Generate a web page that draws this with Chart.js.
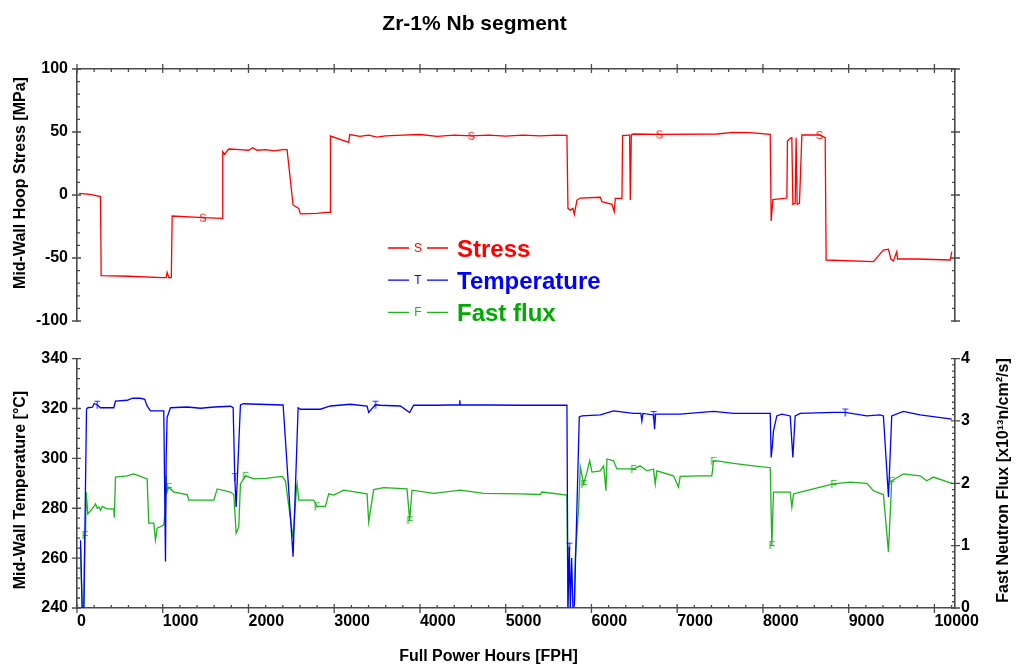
<!DOCTYPE html>
<html>
<head>
<meta charset="utf-8">
<title>Zr-1% Nb segment</title>
<script src="https://cdn.jsdelivr.net/npm/chart.js@4.4.1/dist/chart.umd.min.js"></script>
<style>
  html, body { margin: 0; padding: 0; background: #fff; }
  #wrap { position: relative; width: 1016px; height: 669px; }
  #top { position: absolute; left: 0; top: 0; }
  #bottom { position: absolute; left: 0; top: 340px; }
</style>
</head>
<body>
<div id="wrap">
  <canvas id="top" width="1016" height="340"></canvas>
  <canvas id="bottom" width="1016" height="329"></canvas>
</div>
<script>
const seriesNames = ['Stress', 'Temperature', 'Fast flux'];
const hourTicks = [0, 1000, 2000, 3000, 4000, 5000, 6000, 7000, 8000, 9000, 10000];

const stressHours = [25, 150, 274, 282, 600, 1000, 1040, 1051, 1070, 1100, 1110, 1470, 1693, 1700, 1720, 1770, 1900, 2000, 2050, 2100, 2200, 2300, 2400, 2450, 2520, 2586, 2605, 2800, 2900, 2955, 2956, 3169, 3181, 3300, 3400, 3500, 3600, 3800, 4000, 4200, 4400, 4600, 4800, 5000, 5200, 5400, 5600, 5714, 5726, 5753, 5784, 5800, 5831, 5870, 6103, 6122, 6239, 6266, 6278, 6356, 6363, 6433, 6445, 6453, 6465, 6491, 6794, 7463, 7657, 7851, 8085, 8096, 8116, 8279, 8286, 8318, 8337, 8349, 8376, 8387, 8399, 8426, 8454, 8660, 8726, 8737, 9289, 9328, 9406, 9464, 9492, 9522, 9561, 9570, 9795, 10183, 10203];
const stressMPa = [1.3, 0.5, -1.3, -64, -64.5, -65.5, -65.5, -61.4, -65.5, -65.5, -16.7, -18, -18.5, 34.4, 32.3, 36.5, 36, 35.5, 37.5, 35.5, 36, 35, 36, 36, -7.9, -10.6, -15, -14.6, -13.8, -13.8, 46.8, 41.8, 48, 46.5, 47.5, 46, 47, 47.5, 48, 46.5, 47.5, 47, 47.5, 46.8, 47.5, 47, 47.5, 47.3, -10.6, -12, -10.6, -15.3, -4, -2.4, -1.8, -5.3, -7.4, -13.2, -2.6, -2.6, 47.1, 47.5, 47.5, -4, 47.8, 48.4, 48.1, 48.4, 49.7, 49.5, 48.1, -20.6, -3.6, -2.4, 42.9, 45, 45.5, -7.4, -6.6, 45.5, -7.4, -6.6, 47.6, 47.6, 45.5, -51.6, -52.9, -49.7, -43.7, -43, -50.8, -52.4, -45, -50.8, -50.8, -51.6, -45];
const stressMarks = [1470, 4600, 6794, 8660];

const tempHours = [41, 60, 80, 111, 126, 180, 200, 235, 274, 429, 449, 585, 650, 740, 790, 818, 857, 1012, 1032, 1040, 1051, 1090, 1285, 1440, 1600, 1789, 1821, 1840, 1856, 1906, 1945, 2392, 2404, 2520, 2579, 2605, 2839, 2955, 3188, 3383, 3402, 3480, 3538, 3771, 3880, 3926, 4200, 4463, 4465, 4470, 5170, 5714, 5726, 5742, 5753, 5769, 5784, 5800, 5858, 5889, 6103, 6258, 6491, 6576, 6588, 6600, 6724, 6736, 6748, 7035, 7424, 7657, 8085, 8096, 8110, 8123, 8162, 8220, 8318, 8349, 8376, 8434, 8823, 8959, 9211, 9366, 9405, 9464, 9502, 9638, 9833, 10203];
const tempC = [267.2, 240, 240, 319.7, 320.3, 320.5, 322, 321.5, 320.3, 320.3, 323, 323.3, 324.1, 324.1, 323.7, 321, 319, 319, 258.6, 300, 316.4, 320.3, 320.6, 320.1, 320.6, 320.9, 320.3, 292.5, 280.5, 321.4, 321.9, 321.4, 321.4, 260.6, 320.3, 319.7, 319.7, 321, 321.7, 321, 318.4, 321.5, 321.3, 321, 318.4, 321.3, 321.3, 321.5, 323.3, 321.5, 321.3, 321.3, 240, 264.6, 240, 260, 240, 240, 316.6, 317, 317.4, 319, 318, 318, 315, 318, 317.4, 311.7, 317.7, 317.7, 318.8, 318, 318, 300.4, 305, 311, 317, 317.7, 317, 300.4, 317, 318, 318.4, 318.4, 317, 317.4, 317, 284.5, 317, 318.8, 317.4, 315.7];
const tempMarks = [235, 1840, 3480, 5742, 6724, 8959];

const fluxHours = [41, 60, 80, 92, 100, 107, 126, 177, 216, 235, 255, 274, 294, 352, 429, 435, 449, 585, 663, 740, 818, 837, 896, 915, 935, 1012, 1032, 1040, 1051, 1071, 1129, 1285, 1304, 1596, 1635, 1789, 1829, 1856, 1887, 1906, 1965, 2062, 2200, 2392, 2431, 2520, 2559, 2567, 2587, 2761, 2800, 2897, 2936, 2994, 3110, 3383, 3402, 3460, 3577, 3849, 3880, 3907, 4160, 4471, 4743, 5170, 5403, 5423, 5714, 5726, 5800, 5812, 5851, 5870, 5909, 5948, 5979, 6006, 6103, 6142, 6169, 6181, 6258, 6297, 6491, 6569, 6646, 6724, 6744, 6763, 6957, 7015, 7035, 7268, 7404, 7424, 7463, 7657, 7890, 8085, 8104, 8123, 8318, 8337, 8357, 8434, 8823, 9017, 9211, 9289, 9405, 9464, 9502, 9638, 9833, 9910, 9988, 10203];
const fluxE13 = [0.98, 0, 0, 1.17, 1.2, 1.86, 1.51, 1.59, 1.67, 1.6, 1.62, 1.57, 1.63, 1.59, 1.59, 1.45, 2.1, 2.12, 2.15, 2.11, 2.07, 1.36, 1.36, 1.09, 1.28, 1.33, 1.62, 2.12, 1.86, 1.94, 1.86, 1.82, 1.73, 1.73, 1.91, 1.86, 1.82, 1.2, 1.3, 1.99, 2.12, 2.07, 2.08, 2.11, 2.04, 1.12, 1.91, 1.99, 1.73, 1.73, 1.63, 1.63, 1.83, 1.81, 1.89, 1.83, 1.38, 1.9, 1.93, 1.91, 1.41, 1.89, 1.84, 1.89, 1.84, 1.83, 1.82, 1.86, 1.81, 0, 0, 0.82, 1.62, 2.26, 1.99, 2.18, 2.36, 2.18, 2.2, 2.28, 1.88, 2.39, 2.36, 2.23, 2.23, 2.28, 2.2, 2.23, 1.99, 2.2, 2.12, 1.94, 2.11, 2.12, 2.12, 2.36, 2.36, 2.32, 2.28, 2.25, 1.01, 1.86, 1.86, 1.62, 1.83, 1.86, 1.99, 2.02, 2, 1.88, 1.82, 0.9, 2.04, 2.15, 2.12, 2.04, 2.1, 2];
const fluxMarks = [92, 1071, 1965, 2800, 3880, 5909, 6491, 7424, 8104, 8823, 9502];

const FONT = '"Liberation Sans", Arial, Helvetica, sans-serif';
const AXIS = '#4a4a4a';
const RED = '#ff0000', BLUE = '#0000ff', GREEN = '#1db41d';

Chart.defaults.font.family = FONT;
Chart.defaults.color = '#000';

// small letter drawn on the curve as a point marker
function letter(ch, color) {
  const c = document.createElement('canvas');
  c.width = 12; c.height = 12;
  const g = c.getContext('2d');
  g.font = '11px ' + FONT;
  g.fillStyle = color;
  g.textAlign = 'center';
  g.textBaseline = 'middle';
  g.fillText(ch, 6, 6.5);
  return c;
}

function series(label, hours, vals, marks, color, ch, yAxisID) {
  return {
    label,
    yAxisID,
    data: hours.map((h, i) => ({ x: h, y: vals[i] })),
    borderColor: color,
    borderWidth: 1.3,
    tension: 0,
    pointStyle: letter(ch, color),
    pointRadius: ctx => (ctx.raw && marks.includes(ctx.raw.x)) ? 4 : 0,
    pointHoverRadius: 0,
  };
}

const axisTicks = {
  id: 'axisTicks',
  afterDraw(chart, args, opts) {
    const { ctx, chartArea: a } = chart;
    ctx.save();
    ctx.strokeStyle = AXIS;
    ctx.lineWidth = 1.3;
    ctx.beginPath();
    for (const t of opts.list) {
      const s = chart.scales[t.scale];
      const n = Math.floor((s.max - s.min) / t.minor + 1e-6);
      for (let i = 0; i <= n; i++) {
        const v = s.min + i * t.minor;
        const major = Math.abs(v / t.major - Math.round(v / t.major)) < 1e-6;
        const p = s.getPixelForValue(v);
        const out = major ? 5 : 0, inn = major ? 4 : 3;
        if (t.side === 'left') { ctx.moveTo(a.left - out, p); ctx.lineTo(a.left + inn, p); }
        if (t.side === 'right') { ctx.moveTo(a.right + out, p); ctx.lineTo(a.right - inn, p); }
        if (t.side === 'top') { ctx.moveTo(p, a.top - out); ctx.lineTo(p, a.top + inn); }
        if (t.side === 'bottom') { ctx.moveTo(p, a.bottom + out); ctx.lineTo(p, a.bottom - inn); }
      }
    }
    ctx.stroke();
    ctx.restore();
  }
};

const captions = {
  id: 'captions',
  afterDraw(chart, args, opts) {
    const ctx = chart.ctx;
    for (const c of opts.items) {
      ctx.save();
      ctx.font = c.font;
      ctx.fillStyle = c.color || '#000';
      ctx.textAlign = 'center';
      ctx.textBaseline = c.baseline || 'middle';
      ctx.translate(c.x, c.y);
      if (c.rotate) ctx.rotate(c.rotate);
      ctx.fillText(c.text, 0, 0);
      ctx.restore();
    }
  }
};

const seriesKey = {
  id: 'seriesKey',
  afterDraw(chart, args, opts) {
    const ctx = chart.ctx;
    opts.items.forEach((it, i) => {
      const y = opts.y + i * opts.gap;
      ctx.save();
      ctx.strokeStyle = it.line;
      ctx.lineWidth = 1.3;
      ctx.beginPath();
      ctx.moveTo(opts.x, y); ctx.lineTo(opts.x + 21, y);
      ctx.moveTo(opts.x + 39, y); ctx.lineTo(opts.x + 60, y);
      ctx.stroke();
      ctx.fillStyle = it.line;
      ctx.font = '12px ' + FONT;
      ctx.textAlign = 'center';
      ctx.textBaseline = 'middle';
      ctx.fillText(it.ch, opts.x + 30, y + 0.5);
      ctx.fillStyle = it.color;
      ctx.font = 'bold 24px ' + FONT;
      ctx.textAlign = 'left';
      ctx.textBaseline = 'alphabetic';
      ctx.fillText(it.text, opts.x + 69, y + 8.5);
      ctx.restore();
    });
  }
};

const tickFont = { size: 16, weight: 'bold' };
const border = { display: true, color: AXIS, width: 1.6 };
const noGrid = { display: false, drawTicks: false };

new Chart(document.getElementById('top'), {
  type: 'line',
  data: { datasets: [series(seriesNames[0], stressHours, stressMPa, stressMarks, RED, 'S', 'yS')] },
  options: {
    responsive: false,
    animation: false,
    events: [],
    layout: { padding: { left: 0, right: 0, top: 69, bottom: 19 } },
    plugins: {
      legend: { display: false },
      tooltip: { enabled: false },
      axisTicks: { list: [
        { scale: 'yS', side: 'left', major: 50, minor: 10 },
        { scale: 'yS', side: 'right', major: 50, minor: 10 },
        { scale: 'x', side: 'top', major: 1000, minor: 200 },
      ] },
      captions: { items: [
        { text: 'Zr-1% Nb segment', x: 474.5, y: 29.5, baseline: 'alphabetic', font: 'bold 21px ' + FONT },
        { text: 'Mid-Wall Hoop Stress [MPa]', x: 20.5, y: 183, rotate: -Math.PI / 2, font: 'bold 16px ' + FONT },
      ] },
      seriesKey: { x: 388, y: 248, gap: 32.2, items: [
        { text: seriesNames[0], ch: 'S', line: RED, color: '#ff0000' },
        { text: seriesNames[1], ch: 'T', line: BLUE, color: '#0000ff' },
        { text: seriesNames[2], ch: 'F', line: GREEN, color: '#00aa00' },
      ] },
    },
    scales: {
      x: {
        type: 'linear', position: 'top', min: 0, max: 10240,
        ticks: { display: false }, grid: noGrid, border,
        afterFit: s => { s.height = 0; },
      },
      yS: {
        position: 'left', min: -100, max: 100,
        ticks: { stepSize: 50, padding: 9, font: tickFont, color: '#000' },
        grid: noGrid, border,
        afterFit: s => { s.width = 77; },
      },
      yS2: {
        position: 'right', min: -100, max: 100,
        ticks: { display: false }, grid: noGrid, border,
        afterFit: s => { s.width = 61; },
      },
    },
  },
  plugins: [axisTicks, captions, seriesKey],
});

new Chart(document.getElementById('bottom'), {
  type: 'line',
  data: { datasets: [
    series(seriesNames[1], tempHours, tempC, tempMarks, BLUE, 'T', 'yT'),
    series(seriesNames[2], fluxHours, fluxE13, fluxMarks, GREEN, 'F', 'yF'),
  ] },
  options: {
    responsive: false,
    animation: false,
    events: [],
    layout: { padding: { left: 0, right: 0, top: 17, bottom: 0 } },
    plugins: {
      legend: { display: false },
      tooltip: { enabled: false },
      axisTicks: { list: [
        { scale: 'yT', side: 'left', major: 20, minor: 4 },
        { scale: 'yF', side: 'right', major: 1, minor: 0.1 },
        { scale: 'x', side: 'bottom', major: 1000, minor: 200 },
      ] },
      captions: { items: [
        { text: 'Full Power Hours [FPH]', x: 488.5, y: 321, baseline: 'alphabetic', font: 'bold 16px ' + FONT },
        { text: 'Mid-Wall Temperature [°C]', x: 20.5, y: 150, rotate: -Math.PI / 2, font: 'bold 16px ' + FONT },
        { text: 'Fast Neutron Flux [x10¹³n/cm²/s]', x: 1003.5, y: 140.5, rotate: -Math.PI / 2, font: 'bold 16px ' + FONT },
      ] },
    },
    scales: {
      x: {
        type: 'linear', position: 'bottom', min: 0, max: 10240,
        afterBuildTicks: s => { s.ticks = hourTicks.map(v => ({ value: v })); },
        ticks: {
          autoSkip: false, maxRotation: 0,
          align: 'start', padding: 4, font: tickFont, color: '#000',
          callback: v => String(v),
        },
        grid: noGrid, border,
        afterFit: s => { s.height = 61; },
      },
      yT: {
        position: 'left', min: 240, max: 340,
        ticks: { stepSize: 20, padding: 9, font: tickFont, color: '#000' },
        grid: noGrid, border,
        afterFit: s => { s.width = 77; },
      },
      yF: {
        position: 'right', min: 0, max: 4,
        ticks: { stepSize: 1, padding: 6, font: tickFont, color: '#000' },
        grid: noGrid, border,
        afterFit: s => { s.width = 61; },
      },
    },
  },
  plugins: [axisTicks, captions],
});
</script>
</body>
</html>
